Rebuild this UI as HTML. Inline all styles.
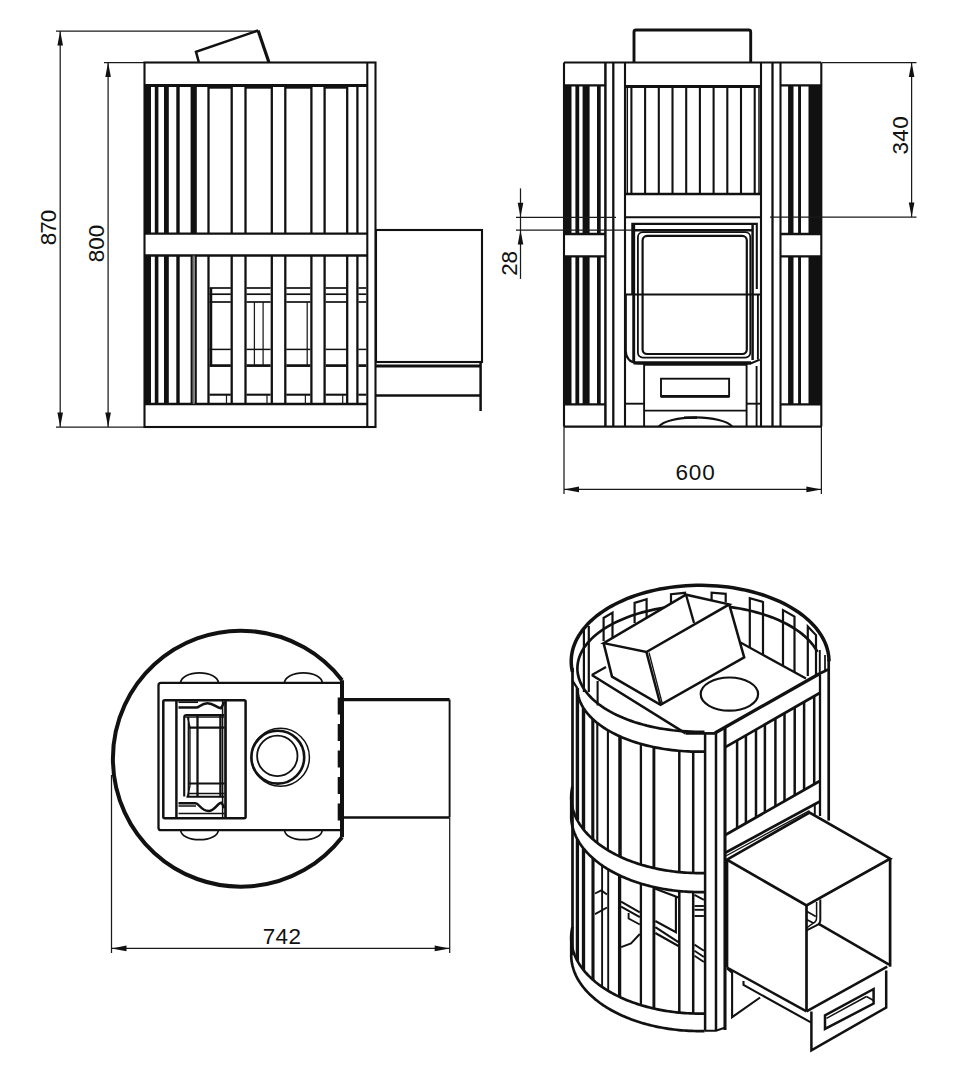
<!DOCTYPE html>
<html><head><meta charset="utf-8"><style>
html,body{margin:0;padding:0;background:#fff;width:965px;height:1080px;overflow:hidden}
svg{display:block}
text{font-family:"Liberation Sans",sans-serif;fill:#111;stroke:none}
</style></head><body>
<svg width="965" height="1080" viewBox="0 0 965 1080">
<g stroke="#111" fill="none">
<line x1="56" y1="31" x2="258" y2="31" stroke-width="1.25" stroke="#1a1a1a"/>
<line x1="104" y1="62.5" x2="144" y2="62.5" stroke-width="1.25" stroke="#1a1a1a"/>
<line x1="60.2" y1="31" x2="60.2" y2="427" stroke-width="1.25" stroke="#1a1a1a"/>
<line x1="108.1" y1="62.5" x2="108.1" y2="427" stroke-width="1.25" stroke="#1a1a1a"/>
<line x1="56" y1="427" x2="144" y2="427" stroke-width="1.25" stroke="#1a1a1a"/>
<polygon points="60.2,31 57.400000000000006,45.5 63.0,45.5" fill="#111" stroke="none"/>
<polygon points="60.2,427 57.400000000000006,412.5 63.0,412.5" fill="#111" stroke="none"/>
<polygon points="108.1,62.5 105.3,77.0 110.89999999999999,77.0" fill="#111" stroke="none"/>
<polygon points="108.1,427 105.3,412.5 110.89999999999999,412.5" fill="#111" stroke="none"/>
<text x="48.5" y="228" font-size="22.5" text-anchor="middle" dominant-baseline="central" letter-spacing="-1.0" transform="rotate(-90 48.5 228)">870</text>
<text x="96.5" y="243.5" font-size="22.5" text-anchor="middle" dominant-baseline="central" letter-spacing="-0.1" transform="rotate(-90 96.5 243.5)">800</text>
<polyline points="198.8,62.2 196,51.9 258.1,30.5" stroke-width="2.5"/>
<line x1="258.1" y1="30.5" x2="268.9" y2="62.2" stroke-width="3.2"/>
<rect x="144.5" y="62.5" width="231.0" height="364.5" rx="0" stroke-width="2.1"/>
<line x1="367.3" y1="62.5" x2="367.3" y2="427" stroke-width="2.1"/>
<line x1="144.5" y1="85.5" x2="367.3" y2="85.5" stroke-width="2.9"/>
<line x1="144.5" y1="233.7" x2="367.3" y2="233.7" stroke-width="2.3"/>
<line x1="144.5" y1="255.5" x2="367.3" y2="255.5" stroke-width="2.3"/>
<line x1="144.5" y1="404" x2="367.3" y2="404" stroke-width="2.3"/>
<rect x="144.5" y="85.5" width="6.5" height="148.2" fill="#111" stroke="none"/>
<rect x="154.8" y="85.5" width="3.5999999999999943" height="148.2" fill="#111" stroke="none"/>
<rect x="164" y="85.5" width="4.800000000000011" height="148.2" fill="#111" stroke="none"/>
<rect x="176.3" y="85.5" width="3.3999999999999773" height="148.2" fill="#111" stroke="none"/>
<rect x="190.6" y="85.5" width="6.200000000000017" height="148.2" fill="#111" stroke="none"/>
<line x1="208.5" y1="85.5" x2="208.5" y2="233.7" stroke-width="2.3"/>
<line x1="231.7" y1="85.5" x2="231.7" y2="233.7" stroke-width="2.3"/>
<line x1="245.5" y1="85.5" x2="245.5" y2="233.7" stroke-width="2.3"/>
<line x1="271.8" y1="85.5" x2="271.8" y2="233.7" stroke-width="2.3"/>
<line x1="285.3" y1="85.5" x2="285.3" y2="233.7" stroke-width="2.3"/>
<line x1="311.4" y1="85.5" x2="311.4" y2="233.7" stroke-width="2.3"/>
<line x1="324.6" y1="85.5" x2="324.6" y2="233.7" stroke-width="2.3"/>
<line x1="347.2" y1="85.5" x2="347.2" y2="233.7" stroke-width="2.3"/>
<line x1="357.4" y1="85.5" x2="357.4" y2="233.7" stroke-width="2.3"/>
<rect x="144.5" y="255.5" width="6.5" height="148.5" fill="#111" stroke="none"/>
<rect x="154.8" y="255.5" width="3.5999999999999943" height="148.5" fill="#111" stroke="none"/>
<rect x="164" y="255.5" width="4.800000000000011" height="148.5" fill="#111" stroke="none"/>
<rect x="176.3" y="255.5" width="3.3999999999999773" height="148.5" fill="#111" stroke="none"/>
<rect x="190.6" y="255.5" width="2.200000000000017" height="148.5" fill="#111" stroke="none"/>
<rect x="194.6" y="255.5" width="2.200000000000017" height="148.5" fill="#111" stroke="none"/>
<rect x="192.8" y="255.5" width="1.8" height="148.5" fill="#777" stroke="none"/>
<line x1="208.5" y1="255.5" x2="208.5" y2="404" stroke-width="2.3"/>
<line x1="231.7" y1="255.5" x2="231.7" y2="404" stroke-width="2.3"/>
<line x1="245.5" y1="255.5" x2="245.5" y2="404" stroke-width="2.3"/>
<line x1="271.8" y1="255.5" x2="271.8" y2="404" stroke-width="2.3"/>
<line x1="285.3" y1="255.5" x2="285.3" y2="404" stroke-width="2.3"/>
<line x1="311.4" y1="255.5" x2="311.4" y2="404" stroke-width="2.3"/>
<line x1="324.6" y1="255.5" x2="324.6" y2="404" stroke-width="2.3"/>
<line x1="347.2" y1="255.5" x2="347.2" y2="404" stroke-width="2.3"/>
<line x1="357.4" y1="255.5" x2="357.4" y2="404" stroke-width="2.3"/>
<line x1="208.5" y1="87.6" x2="231.7" y2="87.6" stroke-width="2.2"/>
<line x1="245.5" y1="87.6" x2="271.8" y2="87.6" stroke-width="2.2"/>
<line x1="285.3" y1="87.6" x2="311.4" y2="87.6" stroke-width="2.2"/>
<line x1="324.6" y1="87.6" x2="347.2" y2="87.6" stroke-width="2.2"/>
<line x1="209.5" y1="288" x2="230.8" y2="288" stroke-width="1.7"/>
<line x1="209.5" y1="294.2" x2="230.8" y2="294.2" stroke-width="1.7"/>
<line x1="209.5" y1="302" x2="230.8" y2="302" stroke-width="1.7"/>
<line x1="209.5" y1="349.4" x2="230.8" y2="349.4" stroke-width="1.5"/>
<line x1="209.5" y1="365.6" x2="230.8" y2="365.6" stroke-width="2.7"/>
<line x1="209.5" y1="394.7" x2="230.8" y2="394.7" stroke-width="2.1"/>
<line x1="246.5" y1="288" x2="270.6" y2="288" stroke-width="1.7"/>
<line x1="246.5" y1="294.2" x2="270.6" y2="294.2" stroke-width="1.7"/>
<line x1="246.5" y1="302" x2="270.6" y2="302" stroke-width="1.7"/>
<line x1="246.5" y1="349.4" x2="270.6" y2="349.4" stroke-width="1.5"/>
<line x1="246.5" y1="365.6" x2="270.6" y2="365.6" stroke-width="2.7"/>
<line x1="246.5" y1="394.7" x2="270.6" y2="394.7" stroke-width="2.1"/>
<line x1="286.3" y1="288" x2="310.4" y2="288" stroke-width="1.7"/>
<line x1="286.3" y1="294.2" x2="310.4" y2="294.2" stroke-width="1.7"/>
<line x1="286.3" y1="302" x2="310.4" y2="302" stroke-width="1.7"/>
<line x1="286.3" y1="349.4" x2="310.4" y2="349.4" stroke-width="1.5"/>
<line x1="286.3" y1="365.6" x2="310.4" y2="365.6" stroke-width="2.7"/>
<line x1="286.3" y1="394.7" x2="310.4" y2="394.7" stroke-width="2.1"/>
<line x1="325.6" y1="288" x2="346.2" y2="288" stroke-width="1.7"/>
<line x1="325.6" y1="294.2" x2="346.2" y2="294.2" stroke-width="1.7"/>
<line x1="325.6" y1="302" x2="346.2" y2="302" stroke-width="1.7"/>
<line x1="325.6" y1="349.4" x2="346.2" y2="349.4" stroke-width="1.5"/>
<line x1="325.6" y1="365.6" x2="346.2" y2="365.6" stroke-width="2.7"/>
<line x1="325.6" y1="394.7" x2="346.2" y2="394.7" stroke-width="2.1"/>
<line x1="358.4" y1="288" x2="366.3" y2="288" stroke-width="1.7"/>
<line x1="358.4" y1="294.2" x2="366.3" y2="294.2" stroke-width="1.7"/>
<line x1="358.4" y1="302" x2="366.3" y2="302" stroke-width="1.7"/>
<line x1="358.4" y1="349.4" x2="366.3" y2="349.4" stroke-width="1.5"/>
<line x1="358.4" y1="365.6" x2="366.3" y2="365.6" stroke-width="2.7"/>
<line x1="358.4" y1="394.7" x2="366.3" y2="394.7" stroke-width="2.1"/>
<line x1="211" y1="288" x2="211" y2="365.6" stroke-width="2.5"/>
<line x1="254.4" y1="302" x2="254.4" y2="365.6" stroke-width="1.25" stroke="#1a1a1a"/>
<line x1="263.1" y1="302" x2="263.1" y2="365.6" stroke-width="1.25" stroke="#1a1a1a"/>
<line x1="307.2" y1="302" x2="307.2" y2="365.6" stroke-width="1.25" stroke="#1a1a1a"/>
<line x1="226.5" y1="394.7" x2="226.5" y2="404" stroke-width="1.25" stroke="#1a1a1a"/>
<line x1="267" y1="394.7" x2="267" y2="404" stroke-width="1.25" stroke="#1a1a1a"/>
<line x1="305.4" y1="394.7" x2="305.4" y2="404" stroke-width="1.25" stroke="#1a1a1a"/>
<line x1="342.7" y1="394.7" x2="342.7" y2="404" stroke-width="1.25" stroke="#1a1a1a"/>
<rect x="376" y="230" width="106" height="132" rx="0" stroke-width="2.1"/>
<line x1="376" y1="366" x2="481" y2="366" stroke-width="2.9"/>
<line x1="376" y1="395.5" x2="481" y2="395.5" stroke-width="2.3"/>
<line x1="480.6" y1="362" x2="480.6" y2="411" stroke-width="2.5"/>
<path d="M634,62.5 V32 Q634,30 636,30 H748.7 Q750.7,30 750.7,32 V62.5" stroke-width="2.9" fill="none"/>
<line x1="564" y1="62.5" x2="821.3" y2="62.5" stroke-width="2.1"/>
<line x1="564" y1="426.6" x2="821.3" y2="426.6" stroke-width="2.1"/>
<line x1="564" y1="62.5" x2="564" y2="426.6" stroke-width="2.1"/>
<line x1="605.4" y1="62.5" x2="605.4" y2="426.6" stroke-width="2.5"/>
<line x1="564" y1="85.3" x2="605" y2="85.3" stroke-width="2.3"/>
<line x1="564" y1="234" x2="605" y2="234" stroke-width="2.3"/>
<line x1="564" y1="256.3" x2="605" y2="256.3" stroke-width="2.3"/>
<line x1="564" y1="404.3" x2="605" y2="404.3" stroke-width="2.3"/>
<rect x="564" y="85.3" width="7.5" height="148.7" fill="#111" stroke="none"/>
<rect x="575.4" y="85.3" width="3.800000000000068" height="148.7" fill="#111" stroke="none"/>
<rect x="582.6" y="85.3" width="7.0" height="148.7" fill="#111" stroke="none"/>
<rect x="597" y="85.3" width="3.7000000000000455" height="148.7" fill="#111" stroke="none"/>
<rect x="564" y="256.3" width="7.5" height="148.0" fill="#111" stroke="none"/>
<rect x="575.4" y="256.3" width="3.800000000000068" height="148.0" fill="#111" stroke="none"/>
<rect x="582.6" y="256.3" width="7.0" height="148.0" fill="#111" stroke="none"/>
<rect x="597" y="256.3" width="3.7000000000000455" height="148.0" fill="#111" stroke="none"/>
<line x1="613.3" y1="62.5" x2="613.3" y2="426.6" stroke-width="2.3"/>
<line x1="772.5" y1="62.5" x2="772.5" y2="426.6" stroke-width="2.3"/>
<line x1="780.5" y1="62.5" x2="780.5" y2="426.6" stroke-width="2.1"/>
<line x1="821.3" y1="62.5" x2="821.3" y2="426.6" stroke-width="2.1"/>
<line x1="780.5" y1="85.3" x2="821.3" y2="85.3" stroke-width="2.3"/>
<line x1="780.5" y1="234" x2="821.3" y2="234" stroke-width="2.3"/>
<line x1="780.5" y1="256.3" x2="821.3" y2="256.3" stroke-width="2.3"/>
<line x1="780.5" y1="404.3" x2="821.3" y2="404.3" stroke-width="2.3"/>
<rect x="788.1" y="85.3" width="5.399999999999977" height="148.7" fill="#111" stroke="none"/>
<rect x="798.1" y="85.3" width="2.8999999999999773" height="148.7" fill="#111" stroke="none"/>
<rect x="808.5" y="85.3" width="12.799999999999955" height="148.7" fill="#111" stroke="none"/>
<rect x="788.1" y="256.3" width="5.399999999999977" height="148.0" fill="#111" stroke="none"/>
<rect x="798.1" y="256.3" width="2.8999999999999773" height="148.0" fill="#111" stroke="none"/>
<rect x="808.5" y="256.3" width="12.799999999999955" height="148.0" fill="#111" stroke="none"/>
<line x1="625" y1="62.5" x2="625" y2="426.6" stroke-width="2.1"/>
<line x1="761" y1="62.5" x2="761" y2="426.6" stroke-width="2.1"/>
<line x1="625" y1="86.5" x2="761" y2="86.5" stroke-width="2.9"/>
<line x1="625" y1="194" x2="761" y2="194" stroke-width="2.3"/>
<line x1="631.4" y1="86.5" x2="631.4" y2="194" stroke-width="2.1"/>
<line x1="645.1" y1="86.5" x2="645.1" y2="194" stroke-width="2.1"/>
<line x1="658.8" y1="86.5" x2="658.8" y2="194" stroke-width="2.1"/>
<line x1="672.5" y1="86.5" x2="672.5" y2="194" stroke-width="2.1"/>
<line x1="686.1999999999999" y1="86.5" x2="686.1999999999999" y2="194" stroke-width="2.1"/>
<line x1="699.9" y1="86.5" x2="699.9" y2="194" stroke-width="2.1"/>
<line x1="713.5999999999999" y1="86.5" x2="713.5999999999999" y2="194" stroke-width="2.1"/>
<line x1="727.3" y1="86.5" x2="727.3" y2="194" stroke-width="2.1"/>
<line x1="741.0" y1="86.5" x2="741.0" y2="194" stroke-width="2.1"/>
<line x1="754.6999999999999" y1="86.5" x2="754.6999999999999" y2="194" stroke-width="2.1"/>
<line x1="627.3" y1="86.5" x2="627.3" y2="194" stroke-width="1.5"/>
<line x1="759" y1="86.5" x2="759" y2="194" stroke-width="1.5"/>
<line x1="625" y1="217.2" x2="761" y2="217.2" stroke-width="1.9"/>
<path d="M632.3,294.5 V223.9 H756.8 V289" stroke-width="2.1" fill="none"/>
<line x1="633" y1="230.2" x2="753" y2="230.2" stroke-width="2.5"/>
<line x1="633.7" y1="224" x2="633.7" y2="362" stroke-width="2.9"/>
<line x1="752.6" y1="224" x2="752.6" y2="360" stroke-width="2.5"/>
<rect x="637.9" y="232.2" width="112.39999999999998" height="125.40000000000003" rx="5" stroke-width="1.8"/>
<rect x="642.6" y="235.9" width="104.19999999999993" height="118.1" rx="4.5" stroke-width="2.2"/>
<path d="M625.8,295 V351 Q625.8,362 638,363.5 H750.6 L759.8,359.6" stroke-width="2.1" fill="none"/>
<line x1="633.5" y1="362.8" x2="751" y2="362.8" stroke-width="3.3"/>
<line x1="757.9" y1="295" x2="757.9" y2="359.5" stroke-width="1.9"/>
<line x1="625" y1="294.5" x2="760" y2="294.5" stroke-width="2.1"/>
<line x1="644.1" y1="364" x2="644.1" y2="426.6" stroke-width="1.9"/>
<line x1="746.6" y1="364" x2="746.6" y2="426.6" stroke-width="1.9"/>
<line x1="644.1" y1="364.8" x2="746.6" y2="364.8" stroke-width="1.9"/>
<rect x="661" y="378.7" width="68.10000000000002" height="17.69999999999999" rx="0" stroke-width="1.9"/>
<line x1="661" y1="396.4" x2="729.1" y2="396.4" stroke-width="2.7"/>
<line x1="625" y1="403.7" x2="644.1" y2="403.7" stroke-width="1.9"/>
<line x1="746.6" y1="403.7" x2="761" y2="403.7" stroke-width="1.9"/>
<line x1="644.1" y1="410.6" x2="746.6" y2="410.6" stroke-width="1.9"/>
<line x1="756.6" y1="366" x2="756.6" y2="426.6" stroke-width="1.9"/>
<path d="M658.7,426.6 A38,12.25 0 0 1 732.3,426.6" stroke-width="2.1" fill="none"/>
<line x1="684" y1="417.7" x2="697" y2="417.7" stroke-width="2.5"/>
<line x1="822" y1="62.5" x2="916.5" y2="62.5" stroke-width="1.25" stroke="#1a1a1a"/>
<line x1="770" y1="217" x2="916.5" y2="217" stroke-width="1.25" stroke="#1a1a1a"/>
<line x1="911.6" y1="62.5" x2="911.6" y2="217" stroke-width="1.25" stroke="#1a1a1a"/>
<polygon points="911.6,62.5 908.8000000000001,77.0 914.4,77.0" fill="#111" stroke="none"/>
<polygon points="911.6,217 908.8000000000001,202.5 914.4,202.5" fill="#111" stroke="none"/>
<text x="900.3" y="135.2" font-size="22.5" text-anchor="middle" dominant-baseline="central" letter-spacing="0.4" transform="rotate(-90 900.3 135.2)">340</text>
<line x1="516" y1="217.3" x2="616" y2="217.3" stroke-width="1.25" stroke="#1a1a1a"/>
<line x1="516" y1="230" x2="632.5" y2="230" stroke-width="1.25" stroke="#1a1a1a"/>
<line x1="520.5" y1="188.4" x2="520.5" y2="278.9" stroke-width="1.25" stroke="#1a1a1a"/>
<polygon points="520.5,217.3 517.7,202.8 523.3,202.8" fill="#111" stroke="none"/>
<polygon points="520.5,230 517.7,244.5 523.3,244.5" fill="#111" stroke="none"/>
<text x="509.5" y="263.5" font-size="22.5" text-anchor="middle" dominant-baseline="central" letter-spacing="-0.2" transform="rotate(-90 509.5 263.5)">28</text>
<line x1="564" y1="426" x2="564" y2="494" stroke-width="1.25" stroke="#1a1a1a"/>
<line x1="821.4" y1="426" x2="821.4" y2="494" stroke-width="1.25" stroke="#1a1a1a"/>
<line x1="564" y1="489.4" x2="821.4" y2="489.4" stroke-width="1.25" stroke="#1a1a1a"/>
<polygon points="564,489.4 579,486.59999999999997 579,492.2" fill="#111" stroke="none"/>
<polygon points="821.4,489.4 806.4,486.59999999999997 806.4,492.2" fill="#111" stroke="none"/>
<text x="695.5" y="472" font-size="22.5" text-anchor="middle" dominant-baseline="central" letter-spacing="0.85">600</text>
<path d="M342,680.2 A128.0,128.0 0 1 0 342,837.2" stroke-width="4.0" fill="none"/>
<line x1="342" y1="680.2" x2="342" y2="837.2" stroke-width="4.0"/>
<path d="M340.5,682.9 H161 Q158.5,682.9 158.5,685.4 V827.7 Q158.5,830.2 161,830.2 H340.5" stroke-width="2.3" fill="none"/>
<line x1="339.0" y1="697.4" x2="339.0" y2="830" stroke-width="2.6" stroke-dasharray="17 9.5"/>
<line x1="341.8" y1="699.6" x2="449.6" y2="699.6" stroke-width="3.3"/>
<line x1="449.6" y1="699.6" x2="449.6" y2="817.5" stroke-width="1.9"/>
<line x1="341.8" y1="817.5" x2="449.6" y2="817.5" stroke-width="2.5"/>
<path d="M180.7,682.9 A18.8,10 0 0 1 218.3,682.9" stroke-width="1.7" fill="none"/>
<path d="M180.7,830.2 A18.8,9.5 0 0 0 218.3,830.2" stroke-width="1.7" fill="none"/>
<path d="M284.59999999999997,682.9 A18.8,10 0 0 1 322.2,682.9" stroke-width="1.7" fill="none"/>
<path d="M284.59999999999997,830.2 A18.8,9.5 0 0 0 322.2,830.2" stroke-width="1.7" fill="none"/>
<rect x="163.3" y="700.3" width="82.29999999999998" height="118.0" rx="1.5" stroke-width="2.5"/>
<line x1="176.4" y1="700.3" x2="176.4" y2="818.3" stroke-width="2.5"/>
<line x1="225.5" y1="700.3" x2="225.5" y2="818.3" stroke-width="2.7"/>
<line x1="222.6" y1="700.3" x2="222.6" y2="818.3" stroke-width="1.5"/>
<line x1="178.5" y1="702.2" x2="198" y2="702.2" stroke-width="1.7"/>
<path d="M178.5,707.6 L196.3,707.6 C199.5,707.6 201,703.2 207.5,703.2 C214,703.2 216,707.8 221,708.2 L224.5,702" stroke-width="2.5" fill="none"/>
<line x1="178.5" y1="806.0" x2="196" y2="806.0" stroke-width="1.5"/>
<line x1="178.5" y1="813.5" x2="224.5" y2="813.5" stroke-width="1.7"/>
<path d="M178.5,803.2 L195.5,803.2 C199,803.2 201,811 208.5,811 C215,811 217,803 221.5,802.7 L224.5,808" stroke-width="2.5" fill="none"/>
<path d="M184.2,796.5 L184.2,717 Q184.2,715 186.5,715 L224,715" stroke-width="2.1" fill="none"/>
<path d="M184.2,717 L224,717" stroke-width="1.3" fill="none"/>
<line x1="186.5" y1="796.8" x2="224" y2="796.8" stroke-width="2.1"/>
<line x1="188.5" y1="717" x2="188.5" y2="796.5" stroke-width="1.7"/>
<path d="M187.5,717 L190,727 L190,786 L187.5,796.5" stroke-width="1.3" fill="none"/>
<line x1="197.5" y1="715" x2="197.5" y2="796.8" stroke-width="2.3"/>
<line x1="220.4" y1="715" x2="220.4" y2="796.8" stroke-width="2.3"/>
<line x1="189" y1="727.6" x2="224.5" y2="727.6" stroke-width="2.1"/>
<line x1="189" y1="783.5" x2="224.5" y2="783.5" stroke-width="2.1"/>
<line x1="189" y1="793.5" x2="224.5" y2="793.5" stroke-width="1.5"/>
<circle cx="280.4" cy="757.3" r="29.0" stroke-width="1.5"/>
<circle cx="277.8" cy="757.2" r="26.4" stroke-width="2.6"/>
<circle cx="277.3" cy="755.9" r="20.2" stroke-width="1.8"/>
<line x1="111.5" y1="775" x2="111.5" y2="953" stroke-width="1.25" stroke="#1a1a1a"/>
<line x1="449.7" y1="818" x2="449.7" y2="953" stroke-width="1.25" stroke="#1a1a1a"/>
<line x1="111.5" y1="948.4" x2="449.7" y2="948.4" stroke-width="1.25" stroke="#1a1a1a"/>
<polygon points="111.5,948.4 126.5,945.6 126.5,951.1999999999999" fill="#111" stroke="none"/>
<polygon points="449.7,948.4 434.7,945.6 434.7,951.1999999999999" fill="#111" stroke="none"/>
<text x="282" y="936.5" font-size="22.5" text-anchor="middle" dominant-baseline="central" letter-spacing="0.4">742</text>
<polyline points="572.45,671.99 571.83,668.89 571.41,665.78 571.22,662.66 571.24,659.54 571.48,656.42 571.93,653.31 572.6,650.22 573.48,647.14 574.58,644.09 575.89,641.06 577.4,638.07 579.13,635.12 581.06,632.22 583.18,629.36 585.51,626.56 588.02,623.81 590.73,621.13 593.62,618.52 596.68,615.97 599.93,613.51 603.34,611.12 606.91,608.82 610.64,606.61 614.52,604.49 618.54,602.47 622.71,600.54 627.0,598.72 631.41,597.0 635.94,595.4 640.58,593.9 645.32,592.51 650.15,591.25 655.06,590.1 660.05,589.07 665.11,588.16 670.23,587.37 675.39,586.71 680.6,586.18 685.84,585.77 691.11,585.49 696.39,585.33 701.67,585.31 706.96,585.41 712.23,585.64 717.48,586.0 722.7,586.48 727.89,587.09 733.03,587.82 738.11,588.68 743.13,589.66 748.07,590.77 752.94,591.99 757.72,593.33 762.4,594.78 766.97,596.34 771.43,598.01 775.77,599.79 779.99,601.68 784.07,603.66 788.01,605.74 791.8,607.92 795.44,610.18 798.92,612.53 802.23,614.97 805.37,617.48 808.33,620.06 811.11,622.72 813.7,625.44 816.1,628.22 818.31,631.06 820.32,633.94 822.12,636.88 823.72,639.85 825.12,642.86 826.3,645.9 827.27,648.97 828.03,652.06 828.57,655.16 828.89,658.28 829.0,661.4" stroke-width="3.5"/>
<polyline points="817.44,651.99 816.17,649.71 814.75,647.46 813.16,645.23 811.41,643.04 809.5,640.88 807.44,638.77 805.23,636.69 802.87,634.66 800.37,632.67 797.72,630.74 794.94,628.85 792.02,627.03 788.97,625.26 785.8,623.55 782.51,621.91 779.1,620.32 775.58,618.81 771.95,617.37 768.22,616.0 764.4,614.7 760.48,613.47 756.48,612.33 752.4,611.26 748.25,610.27 744.02,609.37 739.74,608.54 735.4,607.8 731.0,607.15 726.57,606.58 722.09,606.09 717.59,605.7 713.06,605.39 708.51,605.17 703.94,605.04 699.37,605.0 694.8,605.05 690.24,605.18 685.69,605.41 681.16,605.72 676.66,606.12 672.19,606.61 667.75,607.18 663.36,607.84 659.02,608.59 654.74,609.41 650.52,610.32 646.37,611.32 642.29,612.39 638.3,613.54 634.39,614.77 630.57,616.07 626.84,617.45 623.22,618.89 619.71,620.41 616.3,621.99 613.02,623.64 609.85,625.36 606.81,627.13 603.91,628.96 601.13,630.84 598.49,632.78 596.0,634.77 593.64,636.8 591.44,638.88 589.39,641.0 587.49,643.16 585.75,645.35 584.17,647.58 582.75,649.84 581.5,652.12 580.4,654.42 579.48,656.75 578.72,659.09 578.14,661.44 577.72,663.8 577.48,666.17 577.4,668.54 577.5,670.92 577.76,673.29 578.2,675.65 578.81,678.0 579.58,680.34 580.53,682.66 581.64,684.96 582.92,687.24 584.36,689.49 585.96,691.71 587.72,693.9 589.63,696.06 591.7,698.17 593.92,700.25 596.29,702.28 598.81,704.26 601.46,706.19 604.25,708.07 607.18,709.89 610.23,711.66 613.41,713.36 616.71,715.0 620.13,716.58 623.66,718.09 627.29,719.53 631.03,720.89 634.86,722.19 638.78,723.4 642.79,724.55 646.87,725.61 651.03,726.59 655.26,727.49 659.55,728.31 663.89,729.04 668.29,729.69 672.73,730.26 677.21,730.73 681.71,731.12 686.25,731.43 690.8,731.64 695.36,731.76 699.93,731.8 704.5,731.75" stroke-width="2.7"/>
<polyline points="577.4,688.3 577.44,690.0 577.58,691.7 577.8,693.4 578.1,695.1 578.5,696.79 578.98,698.47 579.55,700.15 580.21,701.82 580.95,703.48 581.78,705.13 582.69,706.76 583.69,708.38 584.77,709.99 585.93,711.59 587.18,713.16 588.51,714.72 589.91,716.26 591.4,717.77 592.96,719.27 594.6,720.75 596.32,722.2 598.11,723.62 599.97,725.03 601.91,726.4 603.91,727.75 605.99,729.07 608.13,730.36 610.34,731.62 612.61,732.84 614.95,734.04 617.34,735.2 619.8,736.33 622.31,737.43 624.88,738.48 627.51,739.51 630.18,740.49 632.91,741.44 635.68,742.35 638.5,743.22 641.36,744.05 644.26,744.84 647.21,745.59 650.19,746.3 653.21,746.97 656.26,747.59 659.34,748.17 662.46,748.71 665.59,749.21 668.76,749.66 671.94,750.06 675.15,750.43 678.37,750.74 681.61,751.02 684.86,751.24 688.12,751.42 691.39,751.56 694.66,751.65 697.94,751.69 701.22,751.69 704.5,751.65" stroke-width="2.7"/>
<line x1="572.4" y1="680.5" x2="577.4" y2="688.3" stroke-width="2.3"/>
<polyline points="572.45,786.41 572.09,788.05 571.79,789.7 571.55,791.36 571.38,793.01 571.26,794.67 571.2,796.33 571.21,797.99 571.28,799.65 571.41,801.31 571.6,802.96 571.85,804.62 572.16,806.27 572.53,807.91 572.96,809.55 573.46,811.18 574.01,812.81 574.63,814.43 575.3,816.04 576.03,817.64 576.83,819.24 577.68,820.82 578.58,822.39 579.55,823.95 580.57,825.49 581.66,827.02 582.79,828.54 583.99,830.04 585.23,831.53 586.54,833.0 587.89,834.45 589.3,835.89 590.77,837.31 592.28,838.71 593.85,840.08 595.46,841.44 597.13,842.78 598.84,844.09 600.61,845.38 602.42,846.65 604.28,847.9 606.18,849.12 608.13,850.32 610.12,851.49 612.15,852.63 614.23,853.75 616.34,854.85 618.5,855.91 620.69,856.95 622.93,857.95 625.2,858.93 627.5,859.88 629.84,860.8 632.22,861.69 634.62,862.55 637.06,863.38 639.52,864.17 642.02,864.94 644.54,865.67 647.09,866.37 649.67,867.03 652.27,867.67 654.89,868.26 657.53,868.83 660.19,869.36 662.87,869.86 665.57,870.32 668.29,870.75 671.02,871.14 673.77,871.5 676.53,871.82 679.29,872.1 682.07,872.35 684.86,872.57 687.65,872.74 690.46,872.89 693.26,872.99 696.07,873.06 698.88,873.1 701.69,873.09 704.5,873.06" stroke-width="2.7"/>
<polyline points="571.2,816.0 571.23,817.53 571.3,819.05 571.43,820.58 571.61,822.1 571.85,823.62 572.13,825.14 572.47,826.65 572.86,828.16 573.3,829.67 573.79,831.16 574.33,832.66 574.92,834.14 575.56,835.62 576.25,837.09 576.99,838.56 577.78,840.01 578.62,841.45 579.51,842.89 580.45,844.31 581.44,845.72 582.47,847.12 583.55,848.51 584.68,849.88 585.85,851.24 587.08,852.59 588.34,853.92 589.65,855.23 591.01,856.53 592.41,857.82 593.85,859.09 595.33,860.34 596.86,861.57 598.43,862.78 600.04,863.98 601.69,865.15 603.38,866.31 605.11,867.44 606.88,868.56 608.68,869.65 610.52,870.72 612.4,871.77 614.31,872.8 616.26,873.8 618.24,874.78 620.26,875.74 622.3,876.68 624.38,877.59 626.49,878.47 628.62,879.33 630.79,880.16 632.98,880.97 635.21,881.75 637.45,882.51 639.73,883.24 642.02,883.94 644.34,884.61 646.68,885.26 649.05,885.88 651.43,886.47 653.84,887.03 656.26,887.56 658.7,888.07 661.16,888.54 663.63,888.99 666.12,889.41 668.62,889.8 671.13,890.15 673.66,890.48 676.19,890.78 678.74,891.05 681.29,891.29 683.86,891.49 686.42,891.67 689.0,891.82 691.58,891.93 694.16,892.02 696.74,892.07 699.33,892.1 701.91,892.09 704.5,892.06" stroke-width="2.7"/>
<line x1="571.25" y1="797" x2="571.25" y2="816" stroke-width="2.7"/>
<polyline points="572.45,926.91 572.09,928.55 571.79,930.2 571.55,931.86 571.38,933.51 571.26,935.17 571.2,936.83 571.21,938.49 571.28,940.15 571.41,941.81 571.6,943.46 571.85,945.12 572.16,946.77 572.53,948.41 572.96,950.05 573.46,951.68 574.01,953.31 574.63,954.93 575.3,956.54 576.03,958.14 576.83,959.74 577.68,961.32 578.58,962.89 579.55,964.45 580.57,965.99 581.66,967.52 582.79,969.04 583.99,970.54 585.23,972.03 586.54,973.5 587.89,974.95 589.3,976.39 590.77,977.81 592.28,979.21 593.85,980.58 595.46,981.94 597.13,983.28 598.84,984.59 600.61,985.88 602.42,987.15 604.28,988.4 606.18,989.62 608.13,990.82 610.12,991.99 612.15,993.13 614.23,994.25 616.34,995.35 618.5,996.41 620.69,997.45 622.93,998.45 625.2,999.43 627.5,1000.38 629.84,1001.3 632.22,1002.19 634.62,1003.05 637.06,1003.88 639.52,1004.67 642.02,1005.44 644.54,1006.17 647.09,1006.87 649.67,1007.53 652.27,1008.17 654.89,1008.76 657.53,1009.33 660.19,1009.86 662.87,1010.36 665.57,1010.82 668.29,1011.25 671.02,1011.64 673.77,1012.0 676.53,1012.32 679.29,1012.6 682.07,1012.85 684.86,1013.07 687.65,1013.24 690.46,1013.39 693.26,1013.49 696.07,1013.56 698.88,1013.6 701.69,1013.59 704.5,1013.56" stroke-width="2.7"/>
<polyline points="571.2,955.0 571.23,956.53 571.3,958.05 571.43,959.58 571.61,961.1 571.85,962.62 572.13,964.14 572.47,965.65 572.86,967.16 573.3,968.67 573.79,970.16 574.33,971.66 574.92,973.14 575.56,974.62 576.25,976.09 576.99,977.56 577.78,979.01 578.62,980.45 579.51,981.89 580.45,983.31 581.44,984.72 582.47,986.12 583.55,987.51 584.68,988.88 585.85,990.24 587.08,991.59 588.34,992.92 589.65,994.23 591.01,995.53 592.41,996.82 593.85,998.09 595.33,999.34 596.86,1000.57 598.43,1001.78 600.04,1002.98 601.69,1004.15 603.38,1005.31 605.11,1006.44 606.88,1007.56 608.68,1008.65 610.52,1009.72 612.4,1010.77 614.31,1011.8 616.26,1012.8 618.24,1013.78 620.26,1014.74 622.3,1015.68 624.38,1016.59 626.49,1017.47 628.62,1018.33 630.79,1019.16 632.98,1019.97 635.21,1020.75 637.45,1021.51 639.73,1022.24 642.02,1022.94 644.34,1023.61 646.68,1024.26 649.05,1024.88 651.43,1025.47 653.84,1026.03 656.26,1026.56 658.7,1027.07 661.16,1027.54 663.63,1027.99 666.12,1028.41 668.62,1028.8 671.13,1029.15 673.66,1029.48 676.19,1029.78 678.74,1030.05 681.29,1030.29 683.86,1030.49 686.42,1030.67 689.0,1030.82 691.58,1030.93 694.16,1031.02 696.74,1031.07 699.33,1031.1 701.91,1031.09 704.5,1031.06" stroke-width="2.7"/>
<line x1="571.25" y1="937.5" x2="571.25" y2="955" stroke-width="2.7"/>
<line x1="572.5" y1="668" x2="572.5" y2="955" stroke-width="2.7"/>
<line x1="828.7" y1="659" x2="828.7" y2="820.6" stroke-width="2.7"/>
<line x1="820.0" y1="675" x2="820.0" y2="816" stroke-width="2.3"/>
<line x1="577.4" y1="688.3" x2="577.4" y2="820.3175492406026" stroke-width="3.4"/>
<line x1="583.5" y1="708.0887430394412" x2="583.5" y2="829.4421810301433" stroke-width="3.4"/>
<line x1="592.8" y1="719.1220814958166" x2="592.8" y2="839.1695106786356" stroke-width="3.1"/>
<line x1="597.3" y1="722.9908362462884" x2="597.3" y2="842.9108158070526" stroke-width="2.1"/>
<line x1="607.9" y1="730.220434431073" x2="607.9" y2="850.1813236969643" stroke-width="2.1"/>
<line x1="620.0" y1="736.4197826884684" x2="620.0" y2="856.6231330587386" stroke-width="3.5"/>
<line x1="640.9" y1="743.9210947942028" x2="640.9" y2="864.5993509694528" stroke-width="2.3"/>
<line x1="653.9" y1="747.1126627821537" x2="653.9" y2="868.044026441029" stroke-width="2.9"/>
<line x1="679.3" y1="750.8263584469801" x2="679.3" y2="872.1026889426398" stroke-width="2.5"/>
<line x1="693.2" y1="751.6155502490803" x2="693.2" y2="872.9908915328076" stroke-width="2.5"/>
<line x1="577.4" y1="839.3175492406026" x2="577.4" y2="960.8175492406026" stroke-width="3.3"/>
<line x1="583.5" y1="848.4421810301433" x2="583.5" y2="969.9421810301433" stroke-width="3.3"/>
<line x1="593.0" y1="858.3463504865497" x2="593.0" y2="979.8463504865497" stroke-width="3.1"/>
<line x1="602.1" y1="865.4342815870365" x2="602.1" y2="986.9342815870365" stroke-width="1.9"/>
<line x1="608.2" y1="869.3620046041668" x2="608.2" y2="990.8620046041668" stroke-width="1.9"/>
<line x1="619.6" y1="875.4350673143017" x2="619.6" y2="996.9350673143017" stroke-width="3.3"/>
<line x1="640.9" y1="883.5993509694528" x2="640.9" y2="1005.0993509694528" stroke-width="2.3"/>
<line x1="653.9" y1="887.044026441029" x2="653.9" y2="1008.544026441029" stroke-width="2.9"/>
<line x1="679.3" y1="891.1026889426398" x2="679.3" y2="1012.6026889426398" stroke-width="2.5"/>
<line x1="693.2" y1="891.9908915328076" x2="693.2" y2="1013.4908915328076" stroke-width="2.5"/>
<line x1="705.1" y1="733.5" x2="705.1" y2="1030" stroke-width="2.5"/>
<line x1="716" y1="733.5" x2="716" y2="1030" stroke-width="2.5"/>
<line x1="725.0" y1="728" x2="725.0" y2="1030" stroke-width="3.1"/>
<path d="M704.3,1030.7 L716,1030.7 L725.3,1027.5" stroke-width="2.1" fill="none"/>
<line x1="685.6" y1="733.4" x2="715.2" y2="733.4" stroke-width="2.7"/>
<line x1="715.0" y1="733.0" x2="819.4" y2="673.7" stroke-width="3.3"/>
<line x1="819.4" y1="673.7" x2="828" y2="669.5" stroke-width="2.7"/>
<line x1="725.4" y1="747.2" x2="819.7" y2="693" stroke-width="2.7"/>
<line x1="740.5" y1="642.5" x2="806" y2="678.6" stroke-width="2.3"/>
<line x1="591.8" y1="675.0" x2="685.6" y2="733.4" stroke-width="2.5"/>
<line x1="597.6" y1="681" x2="597.6" y2="705.5" stroke-width="2.1"/>
<line x1="591.8" y1="675.0" x2="606" y2="667" stroke-width="2.1"/>
<line x1="737.1" y1="740.4725" x2="737.1" y2="828.25748" stroke-width="2.5"/>
<line x1="745.9" y1="735.4125" x2="745.9" y2="823.22916" stroke-width="2.5"/>
<line x1="756" y1="729.605" x2="756" y2="817.4580199999999" stroke-width="2.5"/>
<line x1="764.9" y1="724.4875000000001" x2="764.9" y2="812.37256" stroke-width="2.5"/>
<line x1="775.4" y1="718.45" x2="775.4" y2="806.37286" stroke-width="2.5"/>
<line x1="784.5" y1="713.2175000000001" x2="784.5" y2="801.1731199999999" stroke-width="2.5"/>
<line x1="794.7" y1="707.3525" x2="794.7" y2="795.34484" stroke-width="2.5"/>
<line x1="804.1" y1="701.9475" x2="804.1" y2="789.97368" stroke-width="2.5"/>
<line x1="814.2" y1="696.14" x2="814.2" y2="784.20254" stroke-width="2.5"/>
<line x1="725.3" y1="835" x2="819.8" y2="781" stroke-width="2.7"/>
<line x1="725.3" y1="852.7" x2="819.8" y2="801.5" stroke-width="2.7"/>
<line x1="725.3" y1="856.2" x2="809.5" y2="810.6" stroke-width="1.3"/>
<line x1="814.8" y1="803.6" x2="814.8" y2="814.8" stroke-width="1.9"/>
<ellipse cx="729.4" cy="694.1" rx="28.7" ry="16.6" stroke-width="2.2"/>
<polyline points="603.6,641 603.6,617.9476731759543 612.5,612.5741022764812 612.5,641" stroke-width="2.2"/>
<polyline points="634.6,623 634.6,602.8572742404633 646.6,599.164341146712 646.6,623" stroke-width="2.2"/>
<polyline points="671,604.5 671,594.2646139317375 685,592.8239627342375 685,604.5" stroke-width="2.2"/>
<polyline points="711.6,602.6 711.6,592.6034668787744 725.7,593.8159191389815 725.7,602.6" stroke-width="2.2"/>
<polyline points="749.8,647.5816 749.8,598.1841661825333 763,601.9755436522244 763,654.868" stroke-width="2.2"/>
<polyline points="783,665.908 783,610.1261605450409 794.5,616.58140320285 794.5,672.256" stroke-width="2.2"/>
<polyline points="807.8,676 807.8,626.5874128774951 816,635.0950242091556 816,676" stroke-width="2.2"/>
<line x1="583.9" y1="630" x2="583.9" y2="692" stroke-width="2.2"/>
<line x1="588.8" y1="626" x2="588.8" y2="692" stroke-width="2.2"/>
<line x1="819.8" y1="650" x2="819.8" y2="675" stroke-width="1.9"/>
<line x1="825" y1="655" x2="825" y2="672" stroke-width="1.7"/>
<polygon points="603.6,643.1 686,594.7 729.2,604.4 744.2,657.3 660.5,704.8 612,676.6" fill="#fff" stroke="none"/>
<polygon points="603.6,643.1 646.4,652 729.2,604.4 686,594.7" stroke-width="2.5"/>
<polyline points="603.6,643.1 612,676.6 660.5,704.8 744.2,657.3 729.2,604.4" stroke-width="2.5"/>
<line x1="646.4" y1="652" x2="660.5" y2="704.8" stroke-width="2.5"/>
<line x1="649" y1="652.5" x2="662.5" y2="704.5" stroke-width="1.3"/>
<line x1="686" y1="594.7" x2="694" y2="622.9" stroke-width="2.3"/>
<polygon points="727,859.7 809.5,812.5 890.1,858.7 806.5,905.4" stroke-width="2.7"/>
<line x1="727" y1="859.7" x2="727" y2="967.5" stroke-width="2.7"/>
<line x1="806.5" y1="905.4" x2="806.5" y2="1011.4" stroke-width="2.7"/>
<line x1="890.1" y1="858.7" x2="890.1" y2="966.7" stroke-width="2.7"/>
<line x1="727" y1="967.5" x2="806.5" y2="1011.4" stroke-width="2.5"/>
<line x1="818.3" y1="923.6" x2="889.1" y2="964.7" stroke-width="2.5"/>
<line x1="806.5" y1="1011.4" x2="887.2" y2="966.7" stroke-width="2.5"/>
<path d="M820.3,899.6 V920 Q820.3,924 816.5,925.3 L806.6,930.3" stroke-width="2.0" fill="none"/>
<path d="M816.6,902 V917.5 Q816.6,921.5 813.5,923 L806.6,928.0" stroke-width="1.5" fill="none"/>
<line x1="806.6" y1="911.2" x2="815.8" y2="916.6" stroke-width="1.7"/>
<line x1="806.6" y1="919.5" x2="813.7" y2="923.2" stroke-width="1.7"/>
<polyline points="811.4,1011.4 811.4,1050.3 886.2,1007.5 886.2,970.6" stroke-width="2.5"/>
<polygon points="825,1015.3 873.6,989 873.6,1003.6 825,1028.9" stroke-width="2.5"/>
<line x1="826.5" y1="1018.3" x2="866.5" y2="996.5" stroke-width="1.5"/>
<line x1="866.5" y1="996.5" x2="873.6" y2="1000.5" stroke-width="1.5"/>
<polyline points="727,968.5 732.1,972.6 732.1,1017.2 760.1,997.5" stroke-width="2.1"/>
<polyline points="743.5,981 743.5,985 810.9,1022.4" stroke-width="2.1"/>
<line x1="621.1" y1="901.7" x2="639.8" y2="912.3" stroke-width="2.1"/>
<line x1="621.1" y1="906.7" x2="639.8" y2="917.2" stroke-width="2.1"/>
<polyline points="628.6,912.9 628.6,918.5 639.8,924.5" stroke-width="1.9"/>
<polyline points="621.1,947.1 631,943.4 639.8,934" stroke-width="1.9"/>
<line x1="655.3" y1="888.7" x2="678.4" y2="897.4" stroke-width="2.1"/>
<polyline points="655.3,921 675.9,932.2 675.9,897" stroke-width="2.1"/>
<line x1="655.3" y1="927.2" x2="678.4" y2="942.1" stroke-width="2.1"/>
<line x1="655.3" y1="933" x2="678.4" y2="946" stroke-width="2.1"/>
<line x1="694.5" y1="894.9" x2="703.9" y2="899.9" stroke-width="1.9"/>
<line x1="694.5" y1="906" x2="703.9" y2="906" stroke-width="1.9"/>
<line x1="694.5" y1="909.8" x2="703.9" y2="909.8" stroke-width="1.9"/>
<line x1="694.5" y1="916" x2="703.9" y2="916" stroke-width="1.9"/>
<line x1="694.5" y1="944.6" x2="703.9" y2="950.8" stroke-width="1.9"/>
<line x1="694.5" y1="950.8" x2="703.9" y2="957" stroke-width="1.9"/>
<line x1="694.5" y1="955.8" x2="703.9" y2="962" stroke-width="1.9"/>
<polyline points="595,893.5 601.3,890.4 607,894.5" stroke-width="1.9"/>
<line x1="595" y1="914.2" x2="607" y2="907.5" stroke-width="1.9"/>
</g></svg></body></html>
